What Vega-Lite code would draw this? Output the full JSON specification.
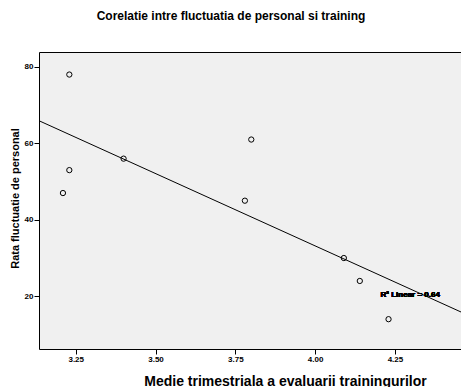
{
  "$schema": "https://vega.github.io/schema/vega-lite/v6.json",
  "autosize": {"type": "none"},
  "width": 422,
  "height": 297,
  "padding": {"left": 39, "top": 52, "right": 0, "bottom": 38},
  "background": "white",
  "title": {
    "text": "Corelatie intre fluctuatia de personal si training",
    "font": "Liberation Sans",
    "fontSize": 12,
    "fontWeight": "bold",
    "color": "black",
    "anchor": "middle",
    "dx": -19,
    "offset": 29
  },
  "config": {
    "view": {"fill": "#f0f0f0", "stroke": "black", "strokeWidth": 1},
    "axis": {
      "grid": false,
      "domain": false,
      "tickColor": "black",
      "tickSize": 5,
      "labelFont": "Liberation Sans",
      "labelFontSize": 8,
      "labelFontWeight": "bold",
      "labelColor": "black",
      "labelPadding": 1,
      "titleFont": "Liberation Sans",
      "titleFontWeight": "bold",
      "titleColor": "black"
    }
  },
  "data": {
    "values": [
      {"x": 3.23, "y": 78},
      {"x": 3.23, "y": 53},
      {"x": 3.21, "y": 47},
      {"x": 3.40, "y": 56},
      {"x": 3.80, "y": 61},
      {"x": 3.78, "y": 45},
      {"x": 4.09, "y": 30},
      {"x": 4.14, "y": 24},
      {"x": 4.23, "y": 14}
    ]
  },
  "layer": [
    {
      "mark": {"type": "point", "shape": "circle", "filled": false, "color": "black", "size": 28, "strokeWidth": 1, "opacity": 1},
      "encoding": {
        "x": {
          "field": "x", "type": "quantitative",
          "scale": {"domain": [3.135, 4.457], "zero": false, "nice": false},
          "axis": {"values": [3.25, 3.5, 3.75, 4.0, 4.25], "format": ".2f", "title": "Medie trimestriala a evaluarii trainingurilor", "titleFontSize": 14, "titleX": 246, "titleY": 32, "titleBaseline": "middle"}
        },
        "y": {
          "field": "y", "type": "quantitative",
          "scale": {"domain": [6.2, 83.9], "zero": false, "nice": false},
          "axis": {"values": [20, 40, 60, 80], "title": "Rata fluctuatie de personal", "titleFontSize": 11, "titleX": -24, "titleY": 146, "titleBaseline": "middle", "titleAlign": "center"}
        }
      }
    },
    {
      "transform": [{"regression": "y", "on": "x", "extent": [3.135, 4.457]}],
      "mark": {"type": "line", "color": "black", "strokeWidth": 1},
      "encoding": {
        "x": {"field": "x", "type": "quantitative"},
        "y": {"field": "y", "type": "quantitative"}
      }
    },
    {
      "mark": {"type": "text", "text": "R² Linear = 0.64", "align": "left", "baseline": "middle", "font": "Liberation Sans", "fontSize": 8, "fontWeight": "bold", "color": "black"},
      "encoding": {
        "x": {"datum": 4.205, "type": "quantitative"},
        "y": {"datum": 20.3, "type": "quantitative"}
      }
    }
  ]
}
